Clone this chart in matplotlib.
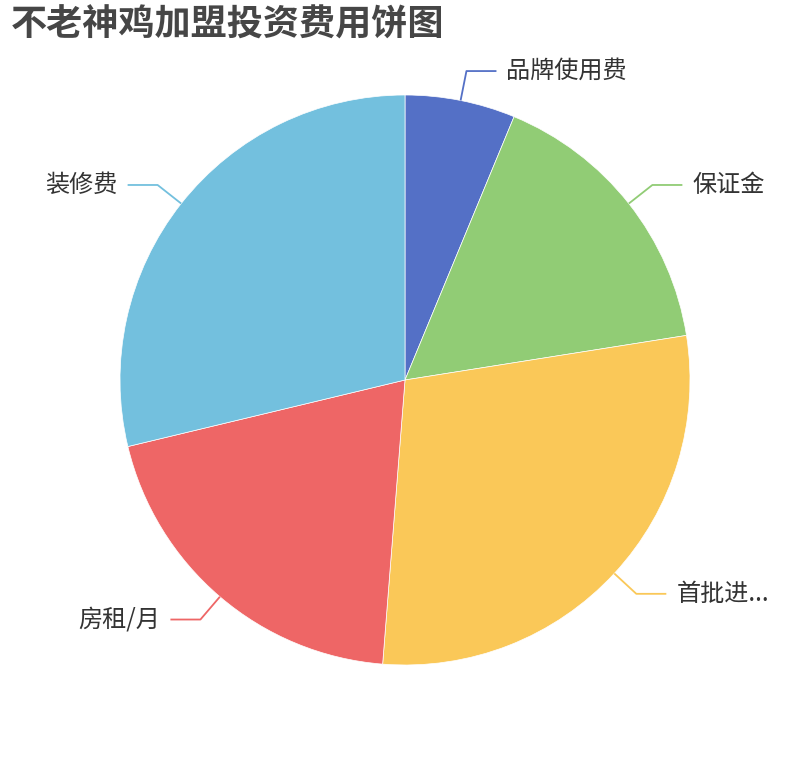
import numpy as np
import matplotlib
matplotlib.use("Agg")
import matplotlib.pyplot as plt

plt.rcParams['font.family'] = ['Noto Sans CJK SC', 'DejaVu Sans']

# 费用（万元）
names = ['品牌使用费', '保证金', '首批进...', '房租/月', '装修费']
values = [5, 13, 23, 16, 23]
colors = ['#5470c6', '#91cc75', '#fac858', '#ee6666', '#73c0de']

W, H = 810, 760
cx, cy, r = 405, 380, 285

fig = plt.figure(figsize=(W / 100, H / 100), dpi=100)
ax = fig.add_axes([0, 0, 1, 1])

wedges, _ = ax.pie(values, colors=colors, startangle=90, counterclock=False,
                   center=(cx, cy), radius=r,
                   wedgeprops=dict(edgecolor='white', linewidth=0.5))

# leader lines and labels
for w, name, c in zip(wedges, names, colors):
    mid = np.deg2rad((w.theta1 + w.theta2) / 2)
    dx, dy = np.cos(mid), np.sin(mid)
    x0, y0 = cx + r * dx, cy + r * dy
    x1, y1 = cx + (r + 30) * dx, cy + (r + 30) * dy
    side = 1 if dx >= 0 else -1
    x2 = x1 + side * 30
    ax.plot([x0, x1, x2], [y0, y1, y1], color=c, lw=1.3, solid_capstyle='butt')
    ax.text(x2 + side * 10, y1, name, fontsize=17.4, color='#333333',
            ha='left' if side > 0 else 'right', va='center')

ax.text(11, H - 25, '不老神鸡加盟投资费用饼图', fontsize=26, fontweight='bold',
        color='#464646', ha='left', va='center')

ax.set_xlim(0, W)
ax.set_ylim(0, H)
ax.set_aspect('equal')
ax.axis('off')

fig.savefig('out.png', dpi=100)
